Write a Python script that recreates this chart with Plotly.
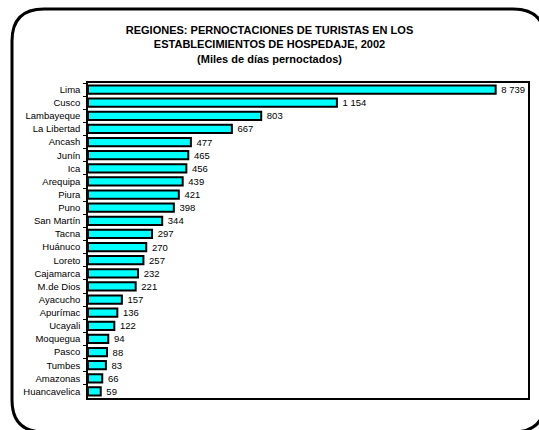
import plotly.graph_objects as go

regions = ["Lima", "Cusco", "Lambayeque", "La Libertad", "Ancash", "Junín", "Ica",
           "Arequipa", "Piura", "Puno", "San Martín", "Tacna", "Huánuco", "Loreto",
           "Cajamarca", "M.de Dios", "Ayacucho", "Apurímac", "Ucayali", "Moquegua",
           "Pasco", "Tumbes", "Amazonas", "Huancavelica"]
values = [8739, 1154, 803, 667, 477, 465, 456, 439, 421, 398, 344, 297, 270, 257,
          232, 221, 157, 136, 122, 94, 88, 83, 66, 59]

# The original chart uses a broken scale: the Lima bar is cut short.
display_cap = 1890
axis_max = 2040

shown = [min(v, display_cap) for v in values]
labels = [f"{v:,}".replace(",", " ") for v in values]

W, H = 539, 430
L, R, T, B = 88, 11, 83, 32
pw, ph = W - L - R, H - T - B

def px_to_paper_x(px):
    return (px - L) / pw

def px_to_paper_y(py):
    return (H - B - py) / ph

fig = go.Figure(go.Bar(
    x=shown, y=regions, orientation="h",
    marker=dict(color="#00FFFF", line=dict(color="black", width=2)),
    text=labels, texttemplate=" %{text}", textposition="outside", cliponaxis=False,
    constraintext="none",
    textfont=dict(family="Liberation Sans, Arial", size=9.5, color="black"),
))

# rounded outer frame
x0, x1 = px_to_paper_x(12), px_to_paper_x(545)
y0, y1 = px_to_paper_y(432), px_to_paper_y(9)
rx, ry = 32 / pw, 32 / ph
path = (f"M {x0+rx},{y1} L {x1-rx},{y1} Q {x1},{y1} {x1},{y1-ry} "
        f"L {x1},{y0+ry} Q {x1},{y0} {x1-rx},{y0} "
        f"L {x0+rx},{y0} Q {x0},{y0} {x0},{y0+ry} "
        f"L {x0},{y1-ry} Q {x0},{y1} {x0+rx},{y1} Z")

fig.update_layout(
    width=W, height=H,
    margin=dict(l=L, r=R, t=T, b=B, autoexpand=False),
    paper_bgcolor="white", plot_bgcolor="white",
    showlegend=False,
    bargap=0.38,
    font=dict(family="Liberation Sans, Arial", size=9, color="black"),
    title=dict(
        text="<b>REGIONES: PERNOCTACIONES DE TURISTAS EN LOS<br>"
             "ESTABLECIMIENTOS DE HOSPEDAJE, 2002<br>(Miles de días pernoctados)</b>",
        x=0.5, xref="container", xanchor="center",
        y=1 - 34 / H, yanchor="top",
        font=dict(family="Liberation Sans, Arial", size=11, color="black"),
    ),
    xaxis=dict(range=[0, axis_max], showgrid=False, zeroline=False,
               showticklabels=False, ticks="", showline=True, mirror=True,
               linecolor="black", linewidth=1.5, fixedrange=True,
               automargin=False),
    yaxis=dict(autorange="reversed", showgrid=False, ticks="outside",
               tickson="boundaries", ticklen=3, tickcolor="black",
               ticklabelstandoff=4,
               showline=True, mirror=True, linecolor="black", linewidth=1.5,
               tickfont=dict(size=9.5), automargin=False),
    shapes=[dict(type="path", path=path, xref="paper", yref="paper",
                 line=dict(color="black", width=3), layer="above")],
)

fig.write_html("out.html", config={"displayModeBar": False},
               post_script="document.body.style.margin='0';document.body.style.overflow='hidden';")
